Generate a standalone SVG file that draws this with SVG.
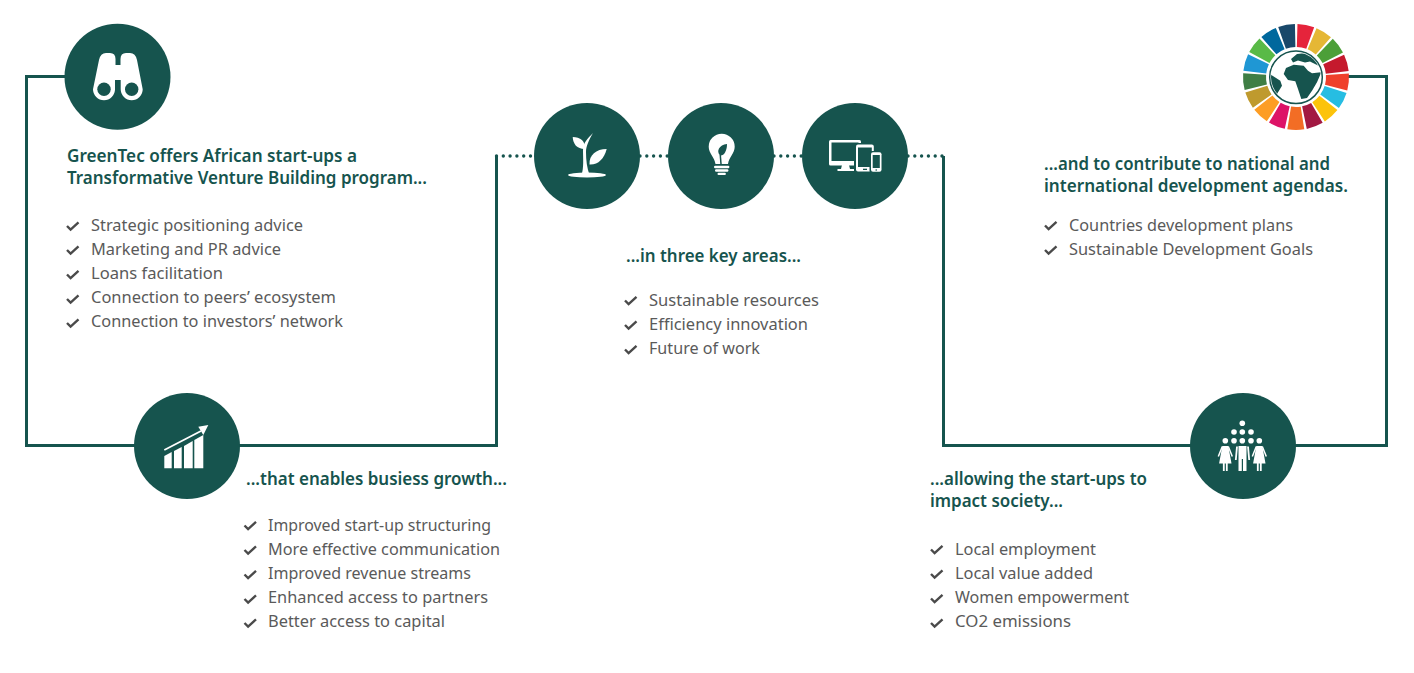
<svg xmlns="http://www.w3.org/2000/svg" xmlns:xlink="http://www.w3.org/1999/xlink" width="1414" height="673" viewBox="0 0 1414 673">
<style>
.disc{fill:#16544e}
.w{fill:#fff}
.d{fill:#16544e}
.h{font:600 17px "Noto Sans","Liberation Sans",sans-serif;fill:#16544e}
.t{font:400 16px "Noto Sans","Liberation Sans",sans-serif;fill:#5a5a5a}
.line{fill:none;stroke:#16544e;stroke-width:3}
.dots{fill:none;stroke:#16544e;stroke-width:3.4;stroke-linecap:round;stroke-dasharray:0 6.8}
.seg{fill:none;stroke-width:23}
</style>
<defs>
<path id="tick" d="M0,0 L3.6,3.6 L11.5,-3.6" fill="none" stroke="#4a4a4a" stroke-width="2.400"/>
<clipPath id="globe"><circle cx="1296" cy="77.300" r="25"/></clipPath>
<g id="woman"><circle cx="0" cy="-5.200" r="2.800" class="w"/><path class="w" d="M-3,0 H3 L6.200,17.500 H2.400 V25 H0.600 V17.500 H-0.600 V25 H-2.400 V17.500 H-6.200 Z"/><path d="M-3,0.500 L-7,10.500 M3,0.500 L7,10.500" fill="none" stroke="#fff" stroke-width="1.500"/></g>
</defs>
<rect width="1414" height="673" fill="#fff"/>
<g id="connectors">
<path class="line" d="M66,76.500 H26.500 V445.500 H135"/>
<path class="line" d="M239,445.500 H496.500 V156"/>
<path class="dots" d="M496.500,156 H534"/>
<path class="dots" d="M640,156 H668"/>
<path class="dots" d="M774,156 H802"/>
<path class="dots" d="M908,156 H943"/>
<path class="line" d="M943.500,156 V445.500 H1191"/>
<path class="line" d="M1295,445.500 H1386.500 V76.500 H1348"/>
</g>
<g id="node-binoculars">
<circle class="disc" cx="117.500" cy="76.700" r="53"/>
<path class="w" d="M106,53 H110 Q115.500,53 115.500,59 V65 H120.500 V59 Q120.500,53 126,53 H130 Q135.500,53 137,60 L142.700,89.300 A11,11 0 1 1 120.700,89.300 V80 H115 V89.300 A11,11 0 1 1 93,89.300 L99,60 Q100.500,53 106,53 Z"/>
<circle class="d" cx="104" cy="89.300" r="6.700"/><circle class="d" cx="131.700" cy="89.300" r="6.700"/>
</g>
<g id="node-sdg-wheel">
<g transform="translate(1296 77)">
<circle class="seg" r="41.500" pathLength="360" stroke-dasharray="18.500 341.500" stroke="#e5243b" transform="rotate(-88.400)"/>
<circle class="seg" r="41.500" pathLength="360" stroke-dasharray="18.500 341.500" stroke="#e5b735" transform="rotate(-67.200)"/>
<circle class="seg" r="41.500" pathLength="360" stroke-dasharray="18.500 341.500" stroke="#4c9f38" transform="rotate(-46)"/>
<circle class="seg" r="41.500" pathLength="360" stroke-dasharray="18.500 341.500" stroke="#c5192d" transform="rotate(-24.900)"/>
<circle class="seg" r="41.500" pathLength="360" stroke-dasharray="18.500 341.500" stroke="#ef402b" transform="rotate(-3.700)"/>
<circle class="seg" r="41.500" pathLength="360" stroke-dasharray="18.500 341.500" stroke="#26bde2" transform="rotate(17.500)"/>
<circle class="seg" r="41.500" pathLength="360" stroke-dasharray="18.500 341.500" stroke="#fcc30b" transform="rotate(38.600)"/>
<circle class="seg" r="41.500" pathLength="360" stroke-dasharray="18.500 341.500" stroke="#a21942" transform="rotate(59.800)"/>
<circle class="seg" r="41.500" pathLength="360" stroke-dasharray="18.500 341.500" stroke="#f36d25" transform="rotate(81)"/>
<circle class="seg" r="41.500" pathLength="360" stroke-dasharray="18.500 341.500" stroke="#dd1367" transform="rotate(102.200)"/>
<circle class="seg" r="41.500" pathLength="360" stroke-dasharray="18.500 341.500" stroke="#fd9d24" transform="rotate(123.400)"/>
<circle class="seg" r="41.500" pathLength="360" stroke-dasharray="18.500 341.500" stroke="#bf9a2e" transform="rotate(144.500)"/>
<circle class="seg" r="41.500" pathLength="360" stroke-dasharray="18.500 341.500" stroke="#3f7e44" transform="rotate(165.700)"/>
<circle class="seg" r="41.500" pathLength="360" stroke-dasharray="18.500 341.500" stroke="#1f97d4" transform="rotate(186.900)"/>
<circle class="seg" r="41.500" pathLength="360" stroke-dasharray="18.500 341.500" stroke="#59ba47" transform="rotate(208)"/>
<circle class="seg" r="41.500" pathLength="360" stroke-dasharray="18.500 341.500" stroke="#00689d" transform="rotate(229.200)"/>
<circle class="seg" r="41.500" pathLength="360" stroke-dasharray="18.500 341.500" stroke="#19486a" transform="rotate(250.400)"/>
</g>
<circle cx="1296" cy="77.300" r="26.300" fill="#fff" stroke="#16544e" stroke-width="1.500"/>
<g clip-path="url(#globe)" class="d">
<path d="M1283.700,74 L1286,68 L1293.700,64.700 L1303.700,65.700 L1308,70.700 L1312,73.300 L1321.300,72.300 L1317,82.300 L1312,90.700 L1307,98 L1301.300,99 L1298,89 L1295.300,81.300 L1288,80 Z"/>
<path d="M1291,59 L1297,54 L1306,53 L1317,60 L1319,66 L1310,61.500 L1305,62.500 L1298,60.500 L1293,62.500 Z"/>
<path d="M1270,74 L1280.300,80.700 L1282,85.700 L1277,94 L1275.300,97.300 L1271.300,87.300 Z"/>
</g>
</g>
<g id="node-plant">
<circle class="disc" cx="587" cy="156" r="53"/>
<ellipse class="w" cx="587" cy="175" rx="19" ry="2.600"/>
<path class="w" d="M581.500,175 C584,168 583,158 583,150 C583,143 588,138 593,133 C589,140 586,146 586,152 C586,160 587,168 589.500,175 Z"/>
<path class="w" d="M572.700,137 C580,137 586,141 584.500,149 C577,149 573,144 572.700,137 Z"/>
<path class="w" d="M606.700,149 C604,159 598,165 589.500,164.500 C589,155 596,149 606.700,149 Z"/>
</g>
<g id="node-bulb">
<circle class="disc" cx="721" cy="156" r="53"/>
<path class="w" d="M708.700,146.700 A13,13 0 1 1 734.700,146.700 C734.700,153 729,157 728,164 H715.500 C714.500,157 708.700,153 708.700,146.700 Z"/>
<path class="d" d="M727,144 C727,151 724,156 720,155.500 C716,151 719,145 727,144 Z"/>
<path d="M720.300,155 L721,164" stroke="#16544e" stroke-width="1.500"/>
<rect class="w" x="714" y="165.700" width="15.400" height="2.500" rx="1.200"/>
<rect class="w" x="715" y="169.300" width="13.400" height="2.500" rx="1.200"/>
<rect class="w" x="717.500" y="172.800" width="8.400" height="2.300" rx="1.100"/>
</g>
<g id="node-devices">
<circle class="disc" cx="855" cy="156" r="53"/>
<rect class="w" x="829" y="140" width="32" height="25.500" rx="1.500"/>
<rect class="d" x="831.500" y="142.500" width="27" height="18.500"/>
<path class="w" d="M842,165 H849 L850,169 H854 V171 H837.500 V169 H841 Z"/>
<rect class="d" x="854" y="143" width="21.500" height="30" rx="2"/>
<rect class="w" x="856" y="144.500" width="17.800" height="27" rx="2"/>
<rect class="d" x="858" y="147.500" width="13.800" height="19.500"/>
<rect class="d" x="863" y="168.700" width="4" height="1.300"/>
<rect class="d" x="869.500" y="151" width="13" height="22" rx="2"/>
<rect class="w" x="871" y="152.300" width="10.500" height="19.400" rx="2"/>
<rect class="d" x="872.700" y="155" width="7.100" height="13"/>
<circle class="d" cx="876.200" cy="170" r="0.800"/>
</g>
<g id="node-growth">
<circle class="disc" cx="187" cy="446" r="53"/>
<path class="w" d="M164.300,456 L171.700,452 V468.300 H164.300 Z"/>
<path class="w" d="M174,451 L181.700,447 V468.300 H174 Z"/>
<path class="w" d="M184,446 L192.700,441 V468.300 H184 Z"/>
<path class="w" d="M194.300,440 L203.300,435 V468.300 H194.300 Z"/>
<path d="M164.300,450 L201,431" stroke="#fff" stroke-width="1.800"/>
<path class="w" d="M208.300,425 L198.300,426.700 L203.300,435 Z"/>
</g>
<g id="node-people">
<circle class="disc" cx="1243" cy="446" r="53"/>
<g class="w">
<circle cx="1242.300" cy="423.300" r="2.800"/>
<circle cx="1234" cy="432" r="2.800"/><circle cx="1242.300" cy="432" r="2.800"/><circle cx="1251" cy="432" r="2.800"/>
<circle cx="1234" cy="440.700" r="2.800"/><circle cx="1242.300" cy="440.700" r="2.800"/><circle cx="1251" cy="440.700" r="2.800"/>
</g>
<use href="#woman" x="1225.300" y="446"/>
<use href="#woman" x="1259.300" y="446"/>
<path class="w" d="M1238.500,446 H1246.500 V471 H1243 V459 H1241.800 V471 H1238.500 Z"/>
<path d="M1237,446.500 L1235.800,460 M1248,446.500 L1249.200,460" fill="none" stroke="#fff" stroke-width="1.800"/>
</g>
<g id="text-offers">
<text class="h" x="67" y="161.500" textLength="290" lengthAdjust="spacingAndGlyphs">GreenTec offers African start-ups a</text>
<text class="h" x="67" y="184" textLength="360" lengthAdjust="spacingAndGlyphs">Transformative Venture Building program...</text>
<use href="#tick" x="67" y="226"/><text class="t" x="91" y="231" textLength="212" lengthAdjust="spacingAndGlyphs">Strategic positioning advice</text>
<use href="#tick" x="67" y="250"/><text class="t" x="91" y="255" textLength="190" lengthAdjust="spacingAndGlyphs">Marketing and PR advice</text>
<use href="#tick" x="67" y="274.500"/><text class="t" x="91" y="279" textLength="132" lengthAdjust="spacingAndGlyphs">Loans facilitation</text>
<use href="#tick" x="67" y="299"/><text class="t" x="91" y="303" textLength="245" lengthAdjust="spacingAndGlyphs">Connection to peers’ ecosystem</text>
<use href="#tick" x="67" y="323"/><text class="t" x="91" y="327" textLength="252" lengthAdjust="spacingAndGlyphs">Connection to investors’ network</text>
</g>
<g id="text-growth">
<text class="h" x="246" y="485" textLength="261" lengthAdjust="spacingAndGlyphs">...that enables busiess growth...</text>
<use href="#tick" x="244.500" y="525.500"/><text class="t" x="268" y="531" textLength="223" lengthAdjust="spacingAndGlyphs">Improved start-up structuring</text>
<use href="#tick" x="244.500" y="550"/><text class="t" x="268" y="555" textLength="232" lengthAdjust="spacingAndGlyphs">More effective communication</text>
<use href="#tick" x="244.500" y="574.500"/><text class="t" x="268" y="579" textLength="203" lengthAdjust="spacingAndGlyphs">Improved revenue streams</text>
<use href="#tick" x="244.500" y="599"/><text class="t" x="268" y="603" textLength="220" lengthAdjust="spacingAndGlyphs">Enhanced access to partners</text>
<use href="#tick" x="244.500" y="623"/><text class="t" x="268" y="627" textLength="177" lengthAdjust="spacingAndGlyphs">Better access to capital</text>
</g>
<g id="text-areas">
<text class="h" x="626" y="262" textLength="175" lengthAdjust="spacingAndGlyphs">...in three key areas...</text>
<use href="#tick" x="625" y="300.500"/><text class="t" x="649" y="306" textLength="170" lengthAdjust="spacingAndGlyphs">Sustainable resources</text>
<use href="#tick" x="625" y="325"/><text class="t" x="649" y="330" textLength="159" lengthAdjust="spacingAndGlyphs">Efficiency innovation</text>
<use href="#tick" x="625" y="349.500"/><text class="t" x="649" y="354" textLength="111" lengthAdjust="spacingAndGlyphs">Future of work</text>
</g>
<g id="text-agendas">
<text class="h" x="1044" y="169.500" textLength="286" lengthAdjust="spacingAndGlyphs">...and to contribute to national and</text>
<text class="h" x="1044" y="192" textLength="304" lengthAdjust="spacingAndGlyphs">international development agendas.</text>
<use href="#tick" x="1045" y="225.500"/><text class="t" x="1069" y="231" textLength="224" lengthAdjust="spacingAndGlyphs">Countries development plans</text>
<use href="#tick" x="1045" y="250"/><text class="t" x="1069" y="255" textLength="244" lengthAdjust="spacingAndGlyphs">Sustainable Development Goals</text>
</g>
<g id="text-society">
<text class="h" x="930" y="484.500" textLength="217" lengthAdjust="spacingAndGlyphs">...allowing the start-ups to</text>
<text class="h" x="930" y="507" textLength="133" lengthAdjust="spacingAndGlyphs">impact society...</text>
<use href="#tick" x="931" y="549.500"/><text class="t" x="955" y="555" textLength="141" lengthAdjust="spacingAndGlyphs">Local employment</text>
<use href="#tick" x="931" y="574"/><text class="t" x="955" y="579" textLength="138" lengthAdjust="spacingAndGlyphs">Local value added</text>
<use href="#tick" x="931" y="598.500"/><text class="t" x="955" y="603" textLength="174" lengthAdjust="spacingAndGlyphs">Women empowerment</text>
<use href="#tick" x="931" y="623"/><text class="t" x="955" y="627" textLength="116" lengthAdjust="spacingAndGlyphs">CO2 emissions</text>
</g>
</svg>
